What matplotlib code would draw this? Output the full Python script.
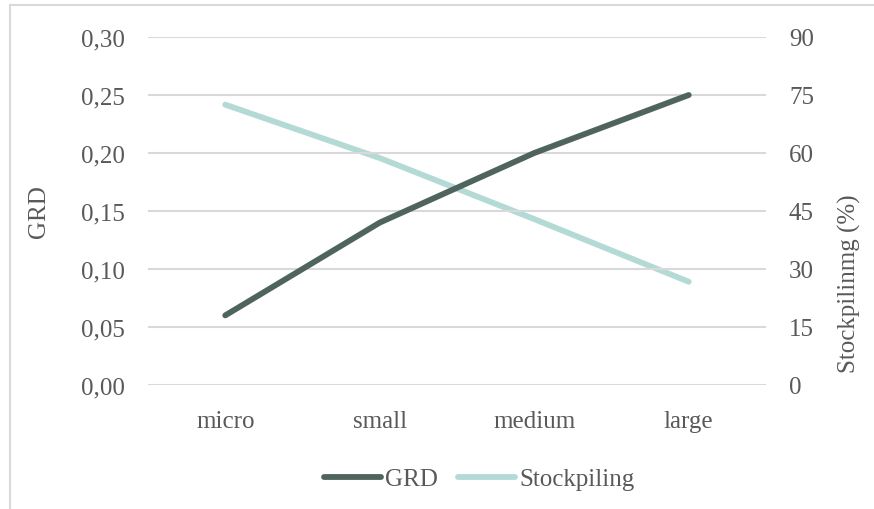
import matplotlib
matplotlib.use("Agg")
import matplotlib.pyplot as plt
from matplotlib.patches import Rectangle

# Data
categories = ["micro", "small", "medium", "large"]
grd = [0.06, 0.14, 0.20, 0.25]
stockpiling = [72.5, 58.7, 42.9, 26.7]
left_ticks = [0.00, 0.05, 0.10, 0.15, 0.20, 0.25, 0.30]
right_ticks = [0, 15, 30, 45, 60, 75, 90]

TEXT = "#595959"
GRID = "#D9D9D9"
C_GRD = "#50645E"
C_STOCK = "#B4DAD6"
FONT = "Liberation Serif"
FS = 18

plt.rcParams["font.family"] = [FONT, "DejaVu Serif"]

W, H = 874, 510
fig = plt.figure(figsize=(W / 100, H / 100), dpi=100)

# chart-area frame
fig.add_artist(Rectangle((10 / W, -0.1), 1.2, 1 - 6 / H + 0.1,
                         transform=fig.transFigure, fill=False,
                         edgecolor=GRID, linewidth=1.5))

ax = fig.add_axes([148 / W, 1 - 386 / H, (766 - 148) / W, (386 - 38) / H])
ax2 = ax.twinx()

x = list(range(len(categories)))
ax.set_xlim(-0.5, len(categories) - 0.5)
ax.set_ylim(0, 0.30)
ax2.set_ylim(0, 90)

ax.set_yticks(left_ticks)
ax.set_yticklabels([f"{v:.2f}".replace(".", ",") for v in left_ticks])
ax2.set_yticks(right_ticks)
ax2.set_yticklabels([str(v) for v in right_ticks])
ax.set_xticks(x)
ax.set_xticklabels(categories)

for a in (ax, ax2):
    for s in a.spines.values():
        s.set_visible(False)
    a.tick_params(length=0, colors=TEXT, labelsize=FS)
ax.tick_params(axis="y", pad=16.5)
ax2.tick_params(axis="y", pad=16.5)
ax.tick_params(axis="x", pad=18)

ax.yaxis.grid(True, color=GRID, linewidth=1.5)
ax.set_axisbelow(True)

l1, = ax.plot(x, grd, color=C_GRD, linewidth=4.2, solid_capstyle="round",
              solid_joinstyle="round", zorder=3, label="GRD")
l2, = ax2.plot(x, stockpiling, color=C_STOCK, linewidth=4.2,
               solid_capstyle="round", solid_joinstyle="round", zorder=2,
               label="Stockpiling")
ax.set_zorder(ax2.get_zorder() + 1)
ax.patch.set_visible(False)

ax.set_ylabel("GRD", color=TEXT, fontsize=FS)
ax.yaxis.set_label_coords((50 - 148) / 618, 0.5)
ax2.set_ylabel("Stockpilinmg (%)", color=TEXT, fontsize=FS, rotation=90)
ax2.yaxis.set_label_coords((838 - 148) / 618, (386 - 284) / 348)

leg = fig.legend([l1, l2], ["GRD", "Stockpiling"], loc="center",
                 bbox_to_anchor=(479 / W, 1 - 480 / H), ncol=2, frameon=False,
                 fontsize=FS, handlelength=2.3, handletextpad=0.15,
                 columnspacing=0.8, borderaxespad=0)
for t in leg.get_texts():
    t.set_color(TEXT)

fig.savefig("out.png", dpi=100)
